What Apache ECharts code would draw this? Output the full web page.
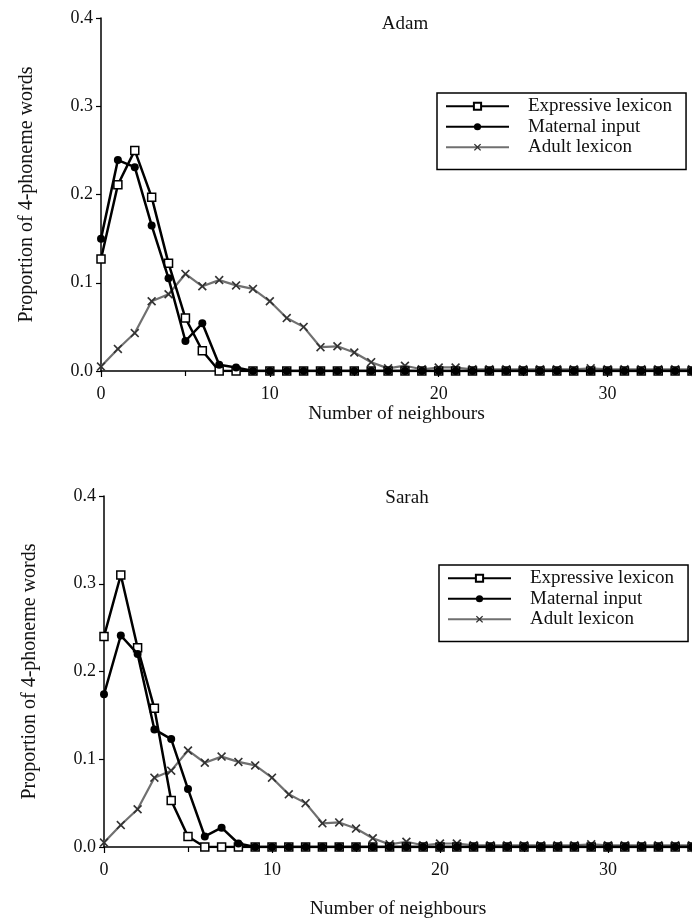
<!DOCTYPE html>
<html><head><meta charset="utf-8">
<script src="https://cdn.jsdelivr.net/npm/echarts@6/dist/echarts.min.js"></script>
<style>html,body{margin:0;padding:0;background:#fff}#c{width:692px;height:921px}</style>
</head><body><div id="c"></div>
<script>
const neighbours = [0,1,2,3,4,5,6,7,8,9,10,11,12,13,14,15,16,17,18,19,20,21,22,23,24,25,26,27,28,29,30,31,32,33,34,35];
const expressiveAdam = [0.127,0.211,0.250,0.197,0.122,0.060,0.023,0.000,0.000,0,0,0,0,0,0,0,0,0,0,0,0,0,0,0,0,0,0,0,0,0,0,0,0,0,0,0];
const maternalAdam   = [0.150,0.239,0.231,0.165,0.105,0.034,0.054,0.007,0.004,0,0,0,0,0,0,0,0,0,0,0,0,0,0,0,0,0,0,0,0,0,0,0,0,0,0,0];
const adultLexicon   = [0.005,0.025,0.043,0.079,0.087,0.110,0.096,0.103,0.097,0.093,0.079,0.060,0.050,0.027,0.028,0.021,0.010,0.003,0.006,0.002,0.004,0.004,0.002,0.002,0.002,0.002,0.002,0.002,0.002,0.003,0.002,0.002,0.002,0.002,0.002,0.002];
const expressiveSarah = [0.240,0.310,0.227,0.158,0.053,0.012,0.000,0.000,0.000,0,0,0,0,0,0,0,0,0,0,0,0,0,0,0,0,0,0,0,0,0,0,0,0,0,0,0];
const maternalSarah   = [0.174,0.241,0.220,0.134,0.123,0.066,0.012,0.022,0.004,0,0,0,0,0,0,0,0,0,0,0,0,0,0,0,0,0,0,0,0,0,0,0,0,0,0,0];
const yTicks = [0.0,0.1,0.2,0.3,0.4];
const seriesNames = ['Expressive lexicon','Maternal input','Adult lexicon'];
const panelTitles = ['Adam','Sarah'];

const FONT = 'Liberation Serif';
const xSym = 'path://M0,1.3 L1.3,0 L5,3.7 L8.7,0 L10,1.3 L6.3,5 L10,8.7 L8.7,10 L5,6.3 L1.3,10 L0,8.7 L3.7,5 Z';
const pairs = arr => neighbours.map((x,i)=>[x,arr[i]]);

function xAxis(gi,gap){
  return {gridIndex:gi,type:'value',min:0,max:35,interval:10,
    name:'Number of neighbours',nameLocation:'middle',nameGap:gap,
    nameTextStyle:{fontFamily:FONT,fontSize:19.5,color:'#111'},
    axisLine:{lineStyle:{color:'#000',width:1.5}},
    axisTick:{length:6,lineStyle:{color:'#000',width:1.2}},
    minorTick:{show:true,splitNumber:2,length:5,lineStyle:{color:'#000',width:1.2}},
    splitLine:{show:false},
    axisLabel:{fontFamily:FONT,fontSize:18,color:'#111',margin:14,showMaxLabel:false}};
}
function yAxis(gi){
  return {gridIndex:gi,type:'value',min:yTicks[0],max:yTicks[yTicks.length-1],interval:0.1,
    name:'Proportion of 4-phoneme words',nameLocation:'middle',nameGap:64,
    nameTextStyle:{fontFamily:FONT,fontSize:20,color:'#111'},
    axisLine:{show:true,lineStyle:{color:'#000',width:1.5}},
    axisTick:{show:true,length:5,lineStyle:{color:'#000',width:1.2}},
    splitLine:{show:false},
    axisLabel:{fontFamily:FONT,fontSize:18,color:'#111',margin:8,formatter:v=>v.toFixed(1)}};
}
function mk(gi,name,data){
  const base={type:'line',xAxisIndex:gi,yAxisIndex:gi,name:name,data:pairs(data),showAllSymbol:true,animation:false,clip:true};
  if(name===seriesNames[0]) return Object.assign(base,{symbol:'rect',symbolSize:8,z:3,
      itemStyle:{color:'#fff',borderColor:'#000',borderWidth:1.5},lineStyle:{color:'#000',width:2.5}});
  if(name===seriesNames[1]) return Object.assign(base,{symbol:'circle',symbolSize:8,z:4,
      itemStyle:{color:'#000'},lineStyle:{color:'#000',width:2.5}});
  return Object.assign(base,{symbol:xSym,symbolSize:9,z:2,
      itemStyle:{color:'#333'},lineStyle:{color:'#707070',width:2.2}});
}
function legend(left,top){
  return {orient:'vertical',left:left,top:top,itemWidth:63,itemHeight:9,itemGap:0,
    data:seriesNames,borderColor:'#000',borderWidth:1.5,padding:[3,14,12,8],selectedMode:false,
    textStyle:{fontFamily:FONT,fontSize:19,color:'#111',lineHeight:20.5,padding:[0,0,0,14]}};
}
const chart = echarts.init(document.getElementById('c'),null,{renderer:'canvas'});
chart.setOption({
  backgroundColor:'#fff',
  animation:false,
  title:[
    {text:panelTitles[0],left:400,top:10,textAlign:'center',textStyle:{fontFamily:FONT,fontSize:19,fontWeight:'normal',color:'#111'}},
    {text:panelTitles[1],left:402,top:484,textAlign:'center',textStyle:{fontFamily:FONT,fontSize:19,fontWeight:'normal',color:'#111'}}
  ],
  legend:[legend(437,93),legend(439,565)],
  grid:[{left:101,top:18,width:591,height:353},{left:104,top:496,width:591,height:351}],
  xAxis:[xAxis(0,32),xAxis(1,52)],
  yAxis:[yAxis(0),yAxis(1)],
  series:[
    mk(0,seriesNames[2],adultLexicon),mk(0,seriesNames[0],expressiveAdam),mk(0,seriesNames[1],maternalAdam),
    mk(1,seriesNames[2],adultLexicon),mk(1,seriesNames[0],expressiveSarah),mk(1,seriesNames[1],maternalSarah)
  ]
});
</script></body></html>
